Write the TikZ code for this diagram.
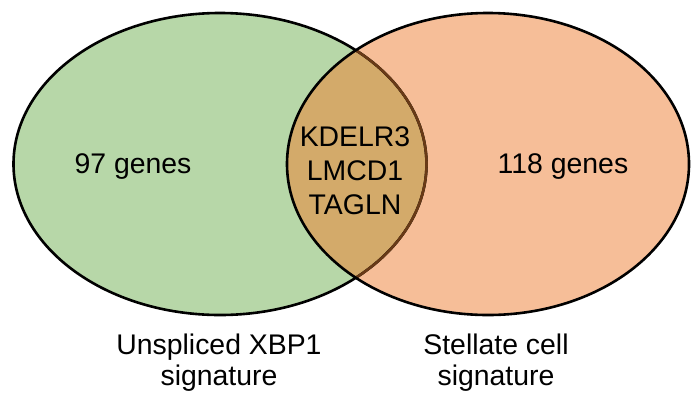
\documentclass[tikz,border=0pt]{standalone}
\usepackage{fontspec}
\setmainfont{Liberation Sans}
\definecolor{vgreen}{RGB}{183,215,168}
\definecolor{vorange}{RGB}{246,190,152}
\definecolor{voverlap}{RGB}{211,170,106}
\definecolor{vbrown}{RGB}{105,58,22}
\tikzset{
  lbl/.style={align=center, inner sep=0pt, font=\fontsize{28.5}{34}\selectfont},
  sig/.style={align=center, inner sep=0pt, font=\fontsize{28.5}{32}\selectfont},
  outline/.style={line width=2.6bp}
}
\begin{document}
\begin{tikzpicture}[x=1bp,y=-1bp]
\useasboundingbox (0,0) rectangle (692,402);
\fill[white] (0,0) rectangle (692,402);
\def\Lell{(220,164) ellipse [x radius=206.5bp, y radius=151bp]}
\def\Rell{(488,164) ellipse [x radius=201bp, y radius=151bp]}
\fill[vgreen] \Lell;
\fill[vorange] \Rell;
\begin{scope}
  \clip \Lell;
  \fill[voverlap] \Rell;
\end{scope}
\draw[outline, black] \Lell;
\begin{scope}
  \clip \Rell;
  \draw[outline, vbrown] \Lell;
\end{scope}
\draw[outline, black] \Rell;
\node[lbl, anchor=base] (left) at (133,173) {97 genes};
\node[lbl, anchor=base] (right) at (563,173) {118 genes};
\node[lbl] (mid) at (355,171) {KDELR3\\LMCD1\\TAGLN};
\node[sig] (lsig) at (219,362.6) {Unspliced XBP1\\signature};
\node[sig] (rsig) at (496,362.6) {Stellate cell\\signature};
\end{tikzpicture}
\end{document}
